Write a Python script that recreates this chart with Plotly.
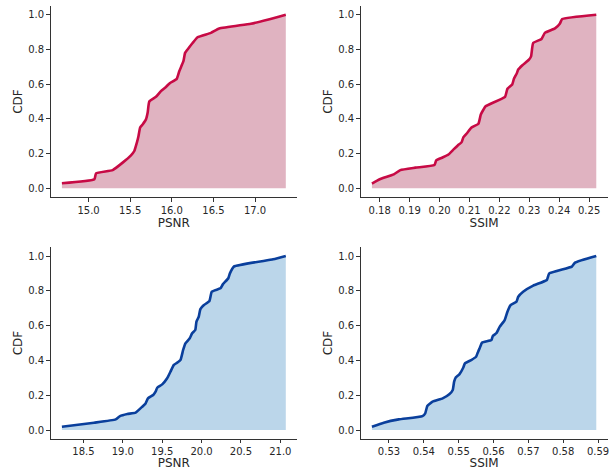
import plotly.graph_objects as go

# ---- data ----
psnr_a = [14.68, 15.07, 15.09, 15.29, 15.41, 15.51, 15.55, 15.58, 15.60, 15.62, 15.65, 15.69, 15.71, 15.73,
          15.81, 15.87, 15.93, 15.98, 16.06, 16.09, 16.14, 16.16, 16.19, 16.25, 16.31, 16.47, 16.57, 16.95,
          17.15, 17.37]
cdf_psnr_a = [0.029, 0.052, 0.086, 0.105, 0.148, 0.19, 0.215, 0.262, 0.30, 0.35, 0.368, 0.397, 0.435, 0.50,
              0.527, 0.56, 0.584, 0.607, 0.63, 0.674, 0.732, 0.78, 0.80, 0.837, 0.87, 0.895, 0.92, 0.948,
              0.971, 1.0]

ssim_a = [0.1774, 0.1800, 0.1847, 0.1869, 0.1919, 0.1983, 0.1989, 0.2008, 0.2030, 0.2047, 0.2061, 0.2074,
          0.2080, 0.2093, 0.2106, 0.2130, 0.2138, 0.2147, 0.2154, 0.2219, 0.2227, 0.2243, 0.2249, 0.2258,
          0.2263, 0.2277, 0.2299, 0.2306, 0.2313, 0.2341, 0.2352, 0.2386, 0.2402, 0.2410, 0.2524]
cdf_ssim_a = [0.027, 0.052, 0.08, 0.105, 0.119, 0.134, 0.161, 0.176, 0.195, 0.224, 0.247, 0.266, 0.295,
              0.32, 0.349, 0.372, 0.425, 0.454, 0.473, 0.527, 0.573, 0.598, 0.632, 0.661, 0.684, 0.709,
              0.741, 0.76, 0.837, 0.86, 0.895, 0.921, 0.948, 0.975, 1.0]

psnr_b = [18.226, 18.635, 18.909, 18.964, 19.057, 19.162, 19.247, 19.289, 19.319, 19.386, 19.416, 19.437,
          19.50, 19.563, 19.605, 19.648, 19.69, 19.732, 19.766, 19.795, 19.85, 19.88, 19.92, 19.935, 19.964,
          19.985, 20.03, 20.10, 20.13, 20.24, 20.27, 20.34, 20.36, 20.41, 20.91, 21.07]
cdf_psnr_b = [0.019, 0.042, 0.061, 0.08, 0.092, 0.10, 0.134, 0.153, 0.182, 0.201, 0.22, 0.243, 0.262, 0.297,
              0.335, 0.374, 0.387, 0.402, 0.46, 0.498, 0.527, 0.556, 0.575, 0.623, 0.651, 0.695, 0.718,
              0.741, 0.795, 0.814, 0.837, 0.872, 0.90, 0.939, 0.981, 1.0]

ssim_b = [0.5251, 0.5285, 0.5328, 0.5396, 0.5404, 0.5410, 0.5425, 0.5454, 0.5473, 0.5483, 0.5487, 0.5492,
          0.5502, 0.5513, 0.5518, 0.5536, 0.5550, 0.5555, 0.5560, 0.5567, 0.5594, 0.5598, 0.5608, 0.5618,
          0.5632, 0.5640, 0.5649, 0.5666, 0.5671, 0.5685, 0.5714, 0.5753, 0.5760, 0.5825, 0.5834, 0.5895]
cdf_ssim_b = [0.019, 0.042, 0.061, 0.08, 0.096, 0.138, 0.163, 0.182, 0.205, 0.23, 0.278, 0.303, 0.32, 0.358,
              0.383, 0.402, 0.421, 0.446, 0.469, 0.502, 0.517, 0.54, 0.556, 0.594, 0.632, 0.68, 0.718,
              0.738, 0.766, 0.795, 0.83, 0.862, 0.90, 0.939, 0.962, 1.0]

x_titles = ["PSNR", "SSIM", "PSNR", "SSIM"]
y_title = "CDF"
x_ticks = [[15.0, 15.5, 16.0, 16.5, 17.0],
           [0.18, 0.19, 0.20, 0.21, 0.22, 0.23, 0.24, 0.25],
           [18.5, 19.0, 19.5, 20.0, 20.5, 21.0],
           [0.53, 0.54, 0.55, 0.56, 0.57, 0.58, 0.59]]
x_tickfmt = [".1f", ".2f", ".1f", ".2f"]
y_ticks = [0.0, 0.2, 0.4, 0.6, 0.8, 1.0]

RED, RED_FILL = "#c70a45", "#e0b3c1"
BLUE, BLUE_FILL = "#0a3f9c", "#bbd6ea"

panels = [
    (psnr_a, cdf_psnr_a, RED, RED_FILL),
    (ssim_a, cdf_ssim_a, RED, RED_FILL),
    (psnr_b, cdf_psnr_b, BLUE, BLUE_FILL),
    (ssim_b, cdf_ssim_b, BLUE, BLUE_FILL),
]

W, H = 613, 470
xdoms = [[50.7 / W, 297 / W], [360.7 / W, 607.5 / W]]
ydoms = [[(H - 197) / H, (H - 6) / H], [(H - 438.7) / H, (H - 247.3) / H]]

fig = go.Figure()
font_col = "#262626"
layout = {}
for i, (xs, ys, lc, fc) in enumerate(panels):
    n = "" if i == 0 else str(i + 1)
    fig.add_trace(go.Scatter(
        x=xs, y=ys, mode="lines", fill="tozeroy", fillcolor=fc,
        line=dict(color=lc, width=2.6, shape="spline", smoothing=0.4),
        xaxis="x" + n, yaxis="y" + n, showlegend=False, hoverinfo="skip"))
    span = max(xs) - min(xs)
    xr = [min(xs) - 0.05 * span, max(xs) + 0.05 * span]
    common = dict(showgrid=False, zeroline=False, showline=True, linecolor="#333333", linewidth=1.1,
                  ticks="outside", ticklen=3.5, tickwidth=0.9, tickcolor="#333333", automargin=False,
                  tickfont=dict(family="DejaVu Sans", size=10, color=font_col))
    layout["xaxis" + n] = dict(
        domain=xdoms[i % 2], anchor="y" + n, range=xr,
        tickmode="array", tickvals=x_ticks[i], tickformat=x_tickfmt[i],
        title=dict(text=x_titles[i], font=dict(family="DejaVu Sans", size=12, color=font_col), standoff=0),
        **common)
    layout["yaxis" + n] = dict(
        domain=ydoms[i // 2], anchor="x" + n, range=[-0.05, 1.05],
        tickmode="array", tickvals=y_ticks, tickformat=".1f",
        title=dict(text=y_title, font=dict(family="DejaVu Sans", size=12, color=font_col), standoff=3),
        **common)

fig.update_layout(width=W, height=H, margin=dict(l=0, r=0, t=0, b=0),
                  plot_bgcolor="white", paper_bgcolor="white", **layout)
fig.write_html("out.html", config={"displayModeBar": False},
               post_script="document.body.style.margin='0';document.body.style.overflow='hidden';")
